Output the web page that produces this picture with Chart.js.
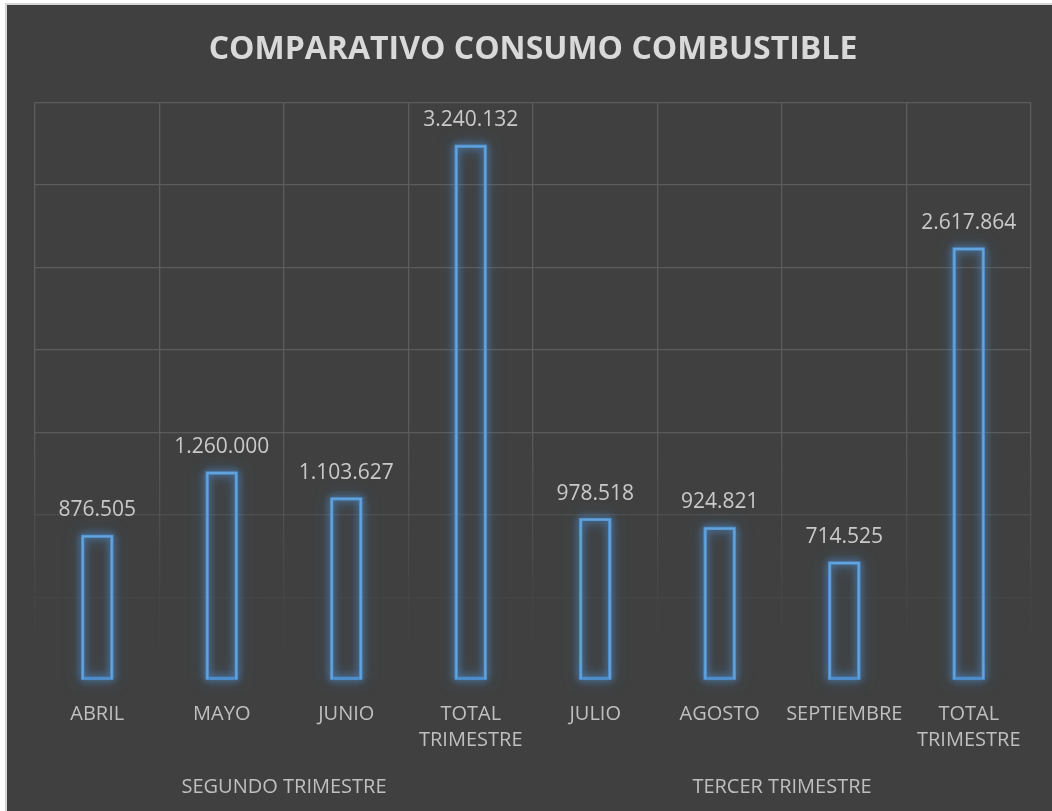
<!DOCTYPE html>
<html>
<head>
<meta charset="utf-8">
<script src="https://cdn.jsdelivr.net/npm/chart.js@4"></script>
<style>
  html, body { margin: 0; padding: 0; background: #ffffff; }
  #frame { position: absolute; left: 5px; top: 3px; width: 1060px; height: 820px;
           background: #404040; border: 2px solid #d6d6d6; box-sizing: border-box; }
  #wrap { position: absolute; left: 0; top: 0; width: 1052px; height: 811px; }
</style>
</head>
<body>
<div id="frame"></div>
<div id="wrap"><canvas id="c" width="1052" height="811"></canvas></div>
<script>
const categories = [["ABRIL"], ["MAYO"], ["JUNIO"], ["TOTAL", "TRIMESTRE"], ["JULIO"], ["AGOSTO"], ["SEPTIEMBRE"], ["TOTAL", "TRIMESTRE"]];
const groups = ["SEGUNDO TRIMESTRE", "TERCER TRIMESTRE"];
const values = [876505, 1260000, 1103627, 3240132, 978518, 924821, 714525, 2617864];
const yMax = 3500000;
const yStep = 500000;

function fmt(v) {
  return String(v).replace(/\B(?=(\d{3})+(?!\d))/g, ".");
}

function gridColor(ctx) {
  const chart = ctx.chart;
  const a = chart.chartArea;
  if (!a) return "rgba(90,90,90,1)";
  const g = chart.ctx.createLinearGradient(0, a.top, 0, a.bottom);
  g.addColorStop(0, "rgba(92,92,92,1)");
  g.addColorStop(0.55, "rgba(92,92,92,1)");
  g.addColorStop(0.75, "rgba(92,92,92,0.45)");
  g.addColorStop(0.88, "rgba(92,92,92,0.12)");
  g.addColorStop(1, "rgba(92,92,92,0)");
  return g;
}

const glowPlugin = {
  id: "glow",
  beforeDatasetsDraw(chart) {
    const c = chart.ctx;
    const meta = chart.getDatasetMeta(0);
    c.save();
    c.shadowColor = "rgba(80,145,210,1)";
    c.strokeStyle = "rgba(80,145,210,0.6)";
    c.lineWidth = 3;
    for (let pass = 0; pass < 3; pass++) {
      c.shadowBlur = [16, 10, 6][pass];
      meta.data.forEach(bar => {
        const p = bar.getProps(["x", "y", "base", "width"], true);
        const left = p.x - p.width / 2;
        const top = Math.min(p.y, p.base);
        const h = Math.abs(p.base - p.y);
        c.strokeRect(left + 1, top + 1, p.width - 2, h - 2);
      });
    }
    c.restore();
  },
  afterDatasetsDraw(chart) {
    const c = chart.ctx;
    const meta = chart.getDatasetMeta(0);
    c.save();
    c.font = "21px 'Open Sans'";
    c.fillStyle = "#c9c9c9";
    c.textAlign = "center";
    c.textBaseline = "middle";
    meta.data.forEach((bar, i) => {
      c.fillText(fmt(chart.data.datasets[0].data[i]), bar.x, bar.y - 25);
    });
    c.restore();
  }
};

new Chart(document.getElementById("c"), {
  type: "bar",
  data: {
    labels: categories,
    datasets: [{
      data: values,
      backgroundColor: "rgba(0,0,0,0)",
      borderColor: "#62a3dc",
      borderWidth: 2,
      barPercentage: 0.25,
      categoryPercentage: 1
    }]
  },
  options: {
    responsive: false,
    animation: false,
    layout: { padding: { left: 35, right: 21, top: 0, bottom: 11 } },
    plugins: {
      legend: { display: false },
      tooltip: { enabled: false },
      title: {
        display: true,
        text: "COMPARATIVO CONSUMO COMBUSTIBLE",
        color: "#d9d9d9",
        font: { family: "'Open Sans'", size: 32, weight: "bold" },
        padding: { top: 31, bottom: 33 }
      }
    },
    scales: {
      x: {
        type: "category",
        offset: true,
        grid: { display: true, offset: true, color: gridColor, lineWidth: 1.3, drawTicks: false },
        border: { display: false },
        ticks: {
          color: "#bfbfbf",
          font: { family: "'Open Sans'", size: 20, lineHeight: 1.3 },
          padding: 21,
          maxRotation: 0,
          autoSkip: false
        }
      },
      x2: {
        type: "category",
        position: "bottom",
        labels: groups,
        offset: true,
        grid: { display: false, drawTicks: false },
        border: { display: false },
        ticks: {
          color: "#bfbfbf",
          font: { family: "'Open Sans'", size: 20, lineHeight: 1.3 },
          padding: 0,
          maxRotation: 0,
          autoSkip: false
        }
      },
      y: {
        min: 0,
        max: yMax,
        grid: { color: gridColor, lineWidth: 1.3, drawTicks: false },
        border: { display: false },
        ticks: { display: false, stepSize: yStep }
      }
    }
  },
  plugins: [glowPlugin]
});
</script>
</body>
</html>
